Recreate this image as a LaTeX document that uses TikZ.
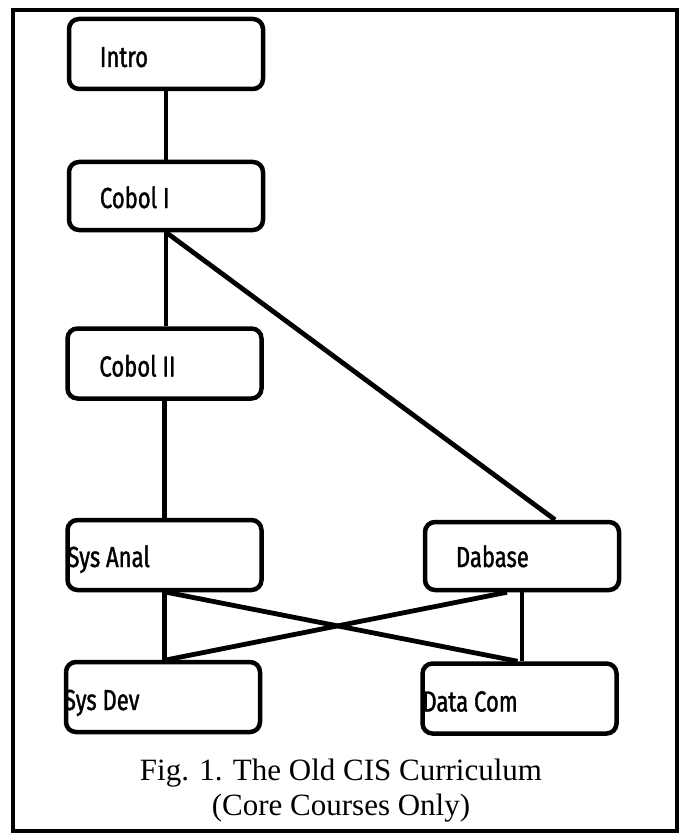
\documentclass[tikz,border=0pt]{standalone}
\usepackage{fontspec}
\setmainfont{Liberation Serif}
\newfontfamily\coursefont[FakeStretch=0.76,FakeBold=1.2]{Fira Sans}
\begin{document}
\begin{tikzpicture}[x=1pt,y=-1pt,
  course/.style={draw, line width=4.5pt, rounded corners=10pt,
    minimum width=194pt, minimum height=70pt, inner sep=0pt, fill=white},
  coursename/.style={anchor=base west, inner sep=0pt,
    font=\coursefont\fontsize{29}{29}\selectfont},
  link/.style={line width=4.8pt},
  captionline/.style={anchor=base, inner sep=0pt,
    font=\fontsize{31}{38}\selectfont}]
\useasboundingbox (0,0) rectangle (682,834);

% outer frame
\draw[line width=3.2pt] (13,10) rectangle (677,831);

% course boxes
\node[course] (intro)    at (166,54)     {};
\node[course, minimum height=68pt] (cobolone) at (166,196) {};
\node[course] (coboltwo) at (164.5,363.5) {};
\node[course] (sysanal)  at (164.5,555)  {};
\node[course, minimum height=68pt] (dabase) at (522,556) {};
\node[course] (sysdev)   at (163,697)    {};
\node[course] (datacom)  at (519.5,698.5) {};

% prerequisite links
\draw[link] (intro) -- (cobolone);
\draw[link] (cobolone.south) -- (cobolone.south |- coboltwo.north);
\draw[link] (cobolone.south) -- ([xshift=33pt]dabase.north);
\draw[link] (coboltwo.south) -- (coboltwo.south |- sysanal.north);
\draw[link] (sysanal.south) -- (sysanal.south |- sysdev.north);
\draw[link] (dabase.south) -- (dabase.south |- datacom.north);
\draw[link] ([xshift=2pt]sysanal.south) -- ([xshift=-2pt]datacom.north);
\draw[link] ([xshift=-15pt]dabase.south) -- ([xshift=4pt]sysdev.north);

% course names
\node[coursename, xshift=33pt, yshift=-13pt] (introname)    at (intro.west)    {Intro};
\node[coursename, xshift=33pt, yshift=-12pt] (cobolonename) at (cobolone.west) {Cobol I};
\node[coursename, xshift=34pt, yshift=-13pt] (coboltwoname) at (coboltwo.west) {Cobol II};
\node[coursename, xshift=2pt,  yshift=-12pt] (sysanalname)  at (sysanal.west)  {Sys Anal};
\node[coursename, xshift=33pt, yshift=-11pt] (dabasename)   at (dabase.west)   {Dabase};
\node[coursename, xshift=0pt,  yshift=-13pt] (sysdevname)   at (sysdev.west)   {Sys Dev};
\node[coursename, xshift=2pt,  yshift=-13pt] (datacomname)  at (datacom.west)  {Data Com};

% caption
\node[captionline] (figtitle) at (341,780) {Fig. 1. The Old CIS Curriculum};
\node[captionline] (figsub)   at (341,815) {(Core Courses Only)};
\end{tikzpicture}
\end{document}
